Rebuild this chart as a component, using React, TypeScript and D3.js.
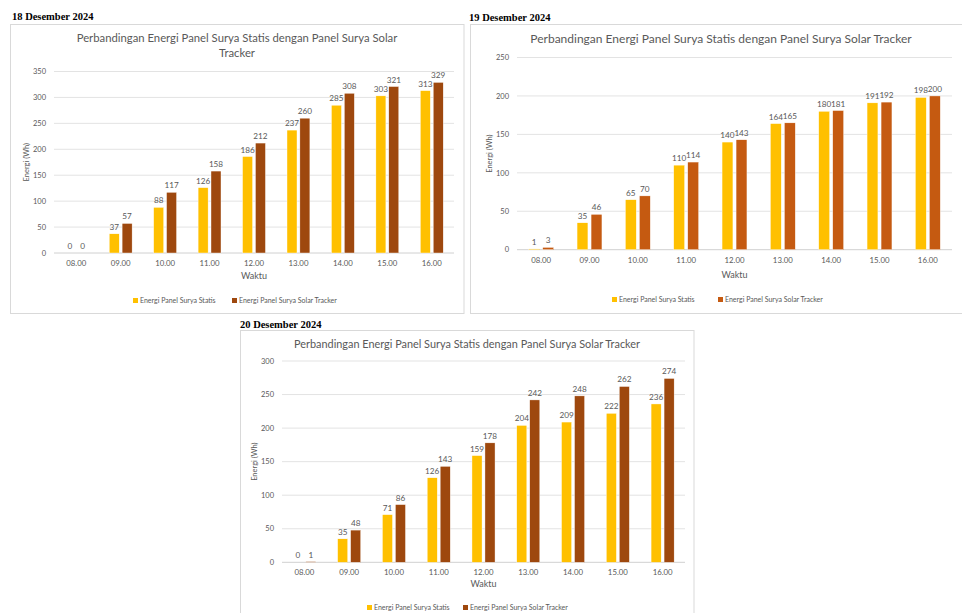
import React from 'react';
import * as d3 from 'd3';

const hours = ['08.00', '09.00', '10.00', '11.00', '12.00', '13.00', '14.00', '15.00', '16.00'];

const statis18 = [0, 37, 88, 126, 186, 237, 285, 303, 313];
const tracker18 = [0, 57, 117, 158, 212, 260, 308, 321, 329];
const statis19 = [1, 35, 65, 110, 140, 164, 180, 191, 198];
const tracker19 = [3, 46, 70, 114, 143, 165, 181, 192, 200];
const statis20 = [0, 35, 71, 126, 159, 204, 209, 222, 236];
const tracker20 = [1, 48, 86, 143, 178, 242, 248, 262, 274];

const yTicks18 = [0, 50, 100, 150, 200, 250, 300, 350];
const yTicks19 = [0, 50, 100, 150, 200, 250];
const yTicks20 = [0, 50, 100, 150, 200, 250, 300];

const seriesNames = ['Energi Panel Surya Statis', 'Energi Panel Surya Solar Tracker'];

const FONT = 'Lato, "Open Sans", sans-serif';
const TXT = '#595959';

type ChartProps = {
  date: string;
  dateX: number;
  dateY: number;
  box: [number, number, number, number];
  title: string[];
  titleX: number;
  titleY: number;
  titleSize: number;
  plot: { x0: number; x1: number; y0: number; y1: number };
  ticks: number[];
  statis: number[];
  tracker: number[];
  trackerColor: string;
  legendX: [number, number];
  legendY: number;
  waktuY: number;
};

function Chart(p: ChartProps) {
  const x = d3.scaleBand<string>().domain(hours).range([p.plot.x0, p.plot.x1]).padding(0);
  const y = d3.scaleLinear().domain([0, d3.max(p.ticks) as number]).range([p.plot.y1, p.plot.y0]);
  const bw = x.bandwidth() * 0.225;
  const gap = x.bandwidth() * 0.065;
  const colors = ['#FFC000', p.trackerColor];
  const series = [p.statis, p.tracker];

  return (
    <g>
      <text x={p.dateX} y={p.dateY} fontFamily='"Liberation Serif", serif' fontWeight="bold" fontSize={10.5} fill="#000">
        {p.date}
      </text>
      <rect x={p.box[0]} y={p.box[1]} width={p.box[2]} height={p.box[3]} fill="#fff" stroke="#d9d9d9" strokeWidth={1} />
      {p.title.map((t, i) => (
        <text key={i} x={p.titleX} y={p.titleY + i * 15} textAnchor="middle" fontFamily={FONT} fontSize={p.titleSize} fill={TXT}>
          {t}
        </text>
      ))}
      {p.ticks.map((t) => (
        <g key={t}>
          <line x1={p.plot.x0} x2={p.plot.x1} y1={y(t)} y2={y(t)} stroke={t === 0 ? '#d0d0d0' : '#e3e3e3'} strokeWidth={1} />
          <text x={p.plot.x0 - 8} y={y(t) + 2.7} textAnchor="end" fontFamily={FONT} fontSize={7.5} fill={TXT}>
            {t}
          </text>
        </g>
      ))}
      {hours.map((h, i) => {
        const c = (x(h) as number) + x.bandwidth() / 2;
        return (
          <g key={h}>
            {series.map((s, k) => {
              const bx = k === 0 ? c - gap / 2 - bw : c + gap / 2;
              const v = s[i];
              return (
                <g key={k}>
                  <rect x={bx} y={y(v)} width={bw} height={y(0) - y(v)} fill={colors[k]} stroke="#fff" strokeWidth={0.4} />
                  <text x={bx + bw / 2} y={y(v) - 4} textAnchor="middle" fontFamily={FONT} fontSize={8.2} fill={TXT}>
                    {v}
                  </text>
                </g>
              );
            })}
            <text x={c} y={p.plot.y1 + 13} textAnchor="middle" fontFamily={FONT} fontSize={7.8} fill={TXT}>
              {h}
            </text>
          </g>
        );
      })}
      <text
        transform={`translate(${p.plot.x0 - 25},${(p.plot.y0 + p.plot.y1) / 2}) rotate(-90)`}
        textAnchor="middle"
        fontFamily={FONT}
        fontSize={7.5}
        fill={TXT}
      >
        Energi (Wh)
      </text>
      <text x={(p.plot.x0 + p.plot.x1) / 2} y={p.waktuY} textAnchor="middle" fontFamily={FONT} fontSize={9} fill={TXT}>
        Waktu
      </text>
      {seriesNames.map((n, k) => (
        <g key={n}>
          <rect x={p.legendX[k]} y={p.legendY - 5} width={5} height={5} fill={colors[k]} />
          <text x={p.legendX[k] + 7} y={p.legendY} fontFamily={FONT} fontSize={7} fill={TXT}>
            {n}
          </text>
        </g>
      ))}
    </g>
  );
}

export default function App() {
  return (
    <svg width={962} height={613} style={{ position: 'absolute', left: 0, top: 0, background: '#fff' }}>
      <rect x={0} y={0} width={962} height={613} fill="#fff" />
      <Chart
        date="18 Desember 2024"
        dateX={12}
        dateY={20}
        box={[10.5, 24.5, 453.5, 289]}
        title={['Perbandingan Energi Panel Surya Statis dengan Panel Surya Solar', 'Tracker']}
        titleX={237}
        titleY={42}
        titleSize={11.3}
        plot={{ x0: 54, x1: 454, y0: 71.5, y1: 253 }}
        ticks={yTicks18}
        statis={statis18}
        tracker={tracker18}
        trackerColor="#9E480E"
        legendX={[133, 232]}
        legendY={303}
        waktuY={279}
      />
      <Chart
        date="19 Desember 2024"
        dateX={469}
        dateY={21}
        box={[470.5, 24.5, 500, 289]}
        title={['Perbandingan Energi Panel Surya Statis dengan Panel Surya Solar Tracker']}
        titleX={721}
        titleY={43}
        titleSize={12}
        plot={{ x0: 517, x1: 952, y0: 57.5, y1: 249.7 }}
        ticks={yTicks19}
        statis={statis19}
        tracker={tracker19}
        trackerColor="#C55A11"
        legendX={[612, 718]}
        legendY={302}
        waktuY={278}
      />
      <Chart
        date="20 Desember 2024"
        dateX={240}
        dateY={328}
        box={[240.5, 330.5, 453.5, 300]}
        title={['Perbandingan Energi Panel Surya Statis dengan Panel Surya Solar Tracker']}
        titleX={467}
        titleY={348}
        titleSize={10.9}
        plot={{ x0: 282, x1: 685, y0: 361, y1: 562.3 }}
        ticks={yTicks20}
        statis={statis20}
        tracker={tracker20}
        trackerColor="#9E480E"
        legendX={[367, 463]}
        legendY={610}
        waktuY={587}
      />
    </svg>
  );
}
